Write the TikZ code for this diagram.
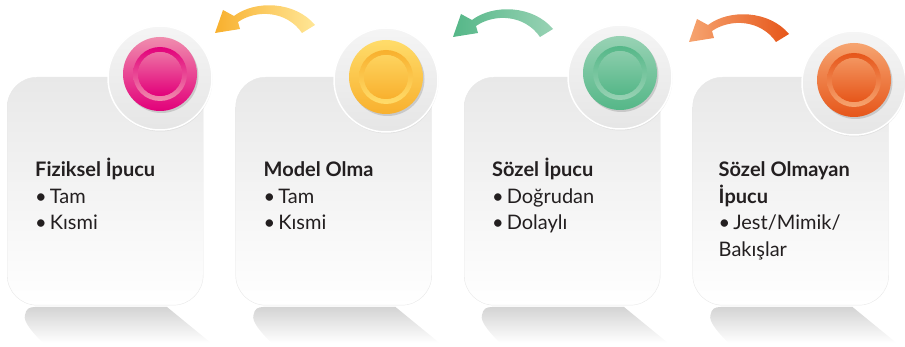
\documentclass[tikz,border=0pt]{standalone}
\usepackage{fontspec}
\setmainfont{Lato}
\usetikzlibrary{positioning,calc,shadows}
\definecolor{pinkmain}{HTML}{E2007A}
\definecolor{pinklight}{HTML}{F08DAE}
\definecolor{yellowmain}{HTML}{F8B02E}
\definecolor{yellowlight}{HTML}{FFDC6A}
\definecolor{greenmain}{HTML}{55B788}
\definecolor{greenlight}{HTML}{98D2B4}
\definecolor{orangemain}{HTML}{E6561A}
\definecolor{orangelight}{HTML}{F6A470}
\definecolor{ink}{HTML}{231F20}
% arrow outline, tip at the origin
\newcommand{\bentarrow}{(0,0) -- (8,-23) -- (19,-17) .. controls (40,-33) and (80,-32) .. (100,-8)
  -- (87,0) .. controls (72,-22) and (42,-24) .. (23,-11) -- (25,-4) -- cycle}
% mirrored card reflection, from the card's bottom left corner
\newcommand{\reflection}{(28,2) -- (160,2) -- (204,38) -- (36,38) .. controls (24,26) and (16,16) .. (18,10)
  .. controls (19,4) and (22,2) .. (28,2)}
\newcommand{\itm}{•\kern3pt}

\begin{document}
\begin{tikzpicture}[x=1pt, y=-1pt, font=\fontsize{20}{26.5}\selectfont,
  card/.style={draw=black!9, rounded corners=30pt, top color=black!9, bottom color=white,
    minimum width=196pt, minimum height=228pt, anchor=north west, inner sep=0pt},
  halo/.style={circle, draw=white, line width=1.5pt, top color=black!4, bottom color=black!10,
    minimum size=104pt, inner sep=0pt, drop shadow={shadow xshift=0.5pt, shadow yshift=-1.5pt, opacity=0.12}},
  disc/.style={circle, minimum size=74pt, inner sep=0pt,
    drop shadow={shadow xshift=1.5pt, shadow yshift=-2pt, opacity=0.3}},
  mirror/.style={top color=black!17, bottom color=white},
  cardtext/.style={anchor=base west, align=left, text=ink, inner sep=0pt}]
\useasboundingbox (0,0) rectangle (905,347);

% reflections
\shade[mirror, shift={(7,305)}] \reflection;
\shade[mirror, shift={(235.5,305)}] \reflection;
\shade[mirror, shift={(464,305)}] \reflection;
\shade[mirror, shift={(692.5,305)}] \reflection;

% cards
\node[card] (c1) at (7,77) {};
\node[card] (c2) at (235.5,77) {};
\node[card] (c3) at (464,77) {};
\node[card] (c4) at (692.5,77) {};

% badges
\node[halo] (h1) at (160,78) {};
\node[halo] (h2) at (386,80) {};
\node[halo] (h3) at (620,77) {};
\node[halo] (h4) at (854,83) {};

\node[disc, top color=pinklight, bottom color=pinkmain] (d1) at (160,74) {};
\shade[even odd rule, top color=pinkmain, bottom color=pinklight] (d1.center) circle (27pt) (d1.center) circle (22pt);
\shade[top color=pinklight!80!pinkmain, bottom color=pinkmain] (d1.center) circle (22pt);

\node[disc, top color=yellowlight, bottom color=yellowmain] (d2) at (386,77) {};
\shade[even odd rule, top color=yellowmain, bottom color=yellowlight] (d2.center) circle (27pt) (d2.center) circle (22pt);
\shade[top color=yellowlight!80!yellowmain, bottom color=yellowmain] (d2.center) circle (22pt);

\node[disc, top color=greenlight, bottom color=greenmain] (d3) at (620,73) {};
\shade[even odd rule, top color=greenmain, bottom color=greenlight] (d3.center) circle (27pt) (d3.center) circle (22pt);
\shade[top color=greenlight!80!greenmain, bottom color=greenmain] (d3.center) circle (22pt);

\node[disc, top color=orangelight, bottom color=orangemain] (d4) at (854,80) {};
\shade[even odd rule, top color=orangemain, bottom color=orangelight] (d4.center) circle (27pt) (d4.center) circle (22pt);
\shade[top color=orangelight!80!orangemain, bottom color=orangemain] (d4.center) circle (22pt);

% arrows
\shade[left color=yellowmain, right color=yellowlight!70!white, shift={(215,33)}] \bentarrow;
\shade[left color=greenmain, right color=greenlight, shift={(453,37)}] \bentarrow;
\shade[left color=orangelight, right color=orangemain, shift={(689,42)}] \bentarrow;

% texts (base is the last line)
\node[cardtext] (t1) at ([xshift=28pt,yshift=-153pt]c1.north west) {\textbf{Fiziksel İpucu}\\\itm Tam\\\itm Kısmi};
\node[cardtext] (t2) at ([xshift=28pt,yshift=-153pt]c2.north west) {\textbf{Model Olma}\\\itm Tam\\\itm Kısmi};
\node[cardtext] (t3) at ([xshift=28pt,yshift=-153pt]c3.north west) {\textbf{Sözel İpucu}\\\itm Doğrudan\\\itm Dolaylı};
\node[cardtext] (t4) at ([xshift=26pt,yshift=-179.5pt]c4.north west) {\textbf{Sözel Olmayan}\\\textbf{İpucu}\\\itm Jest/Mimik/\\Bakışlar};
\end{tikzpicture}
\end{document}
